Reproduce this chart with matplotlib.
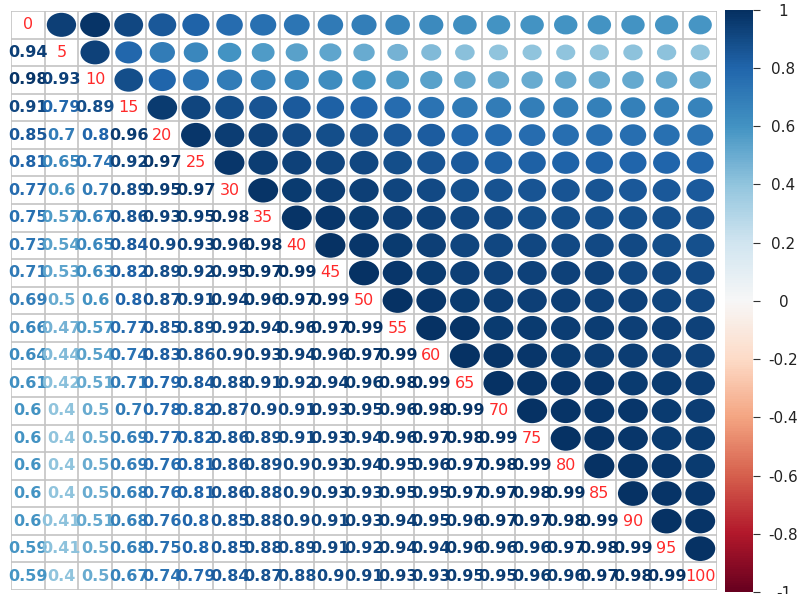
import numpy as np
import matplotlib
matplotlib.use("Agg")
import matplotlib.pyplot as plt
from matplotlib.patches import Ellipse
from matplotlib import colors

# variable names along the diagonal
var_labels = ["0", "5", "10", "15", "20", "25", "30", "35", "40", "45", "50",
              "55", "60", "65", "70", "75", "80", "85", "90", "95", "100"]

# lower triangle of the correlation matrix, one list per row (row i has i entries)
lower_rows = [
    [],
    [0.94],
    [0.98, 0.93],
    [0.91, 0.79, 0.89],
    [0.85, 0.70, 0.80, 0.96],
    [0.81, 0.65, 0.74, 0.92, 0.97],
    [0.77, 0.60, 0.70, 0.89, 0.95, 0.97],
    [0.75, 0.57, 0.67, 0.86, 0.93, 0.95, 0.98],
    [0.73, 0.54, 0.65, 0.84, 0.90, 0.93, 0.96, 0.98],
    [0.71, 0.53, 0.63, 0.82, 0.89, 0.92, 0.95, 0.97, 0.99],
    [0.69, 0.50, 0.60, 0.80, 0.87, 0.91, 0.94, 0.96, 0.97, 0.99],
    [0.66, 0.47, 0.57, 0.77, 0.85, 0.89, 0.92, 0.94, 0.96, 0.97, 0.99],
    [0.64, 0.44, 0.54, 0.74, 0.83, 0.86, 0.90, 0.93, 0.94, 0.96, 0.97, 0.99],
    [0.61, 0.42, 0.51, 0.71, 0.79, 0.84, 0.88, 0.91, 0.92, 0.94, 0.96, 0.98, 0.99],
    [0.60, 0.40, 0.50, 0.70, 0.78, 0.82, 0.87, 0.90, 0.91, 0.93, 0.95, 0.96, 0.98,
     0.99],
    [0.60, 0.40, 0.50, 0.69, 0.77, 0.82, 0.86, 0.89, 0.91, 0.93, 0.94, 0.96, 0.97,
     0.98, 0.99],
    [0.60, 0.40, 0.50, 0.69, 0.76, 0.81, 0.86, 0.89, 0.90, 0.93, 0.94, 0.95, 0.96,
     0.97, 0.98, 0.99],
    [0.60, 0.40, 0.50, 0.68, 0.76, 0.81, 0.86, 0.88, 0.90, 0.93, 0.93, 0.95, 0.95,
     0.97, 0.97, 0.98, 0.99],
    [0.60, 0.41, 0.51, 0.68, 0.76, 0.80, 0.85, 0.88, 0.90, 0.91, 0.93, 0.94, 0.95,
     0.96, 0.97, 0.97, 0.98, 0.99],
    [0.59, 0.41, 0.50, 0.68, 0.75, 0.80, 0.85, 0.88, 0.89, 0.91, 0.92, 0.94, 0.94,
     0.96, 0.96, 0.96, 0.97, 0.98, 0.99],
    [0.59, 0.40, 0.50, 0.67, 0.74, 0.79, 0.84, 0.87, 0.88, 0.90, 0.91, 0.93, 0.93,
     0.95, 0.95, 0.96, 0.96, 0.97, 0.98, 0.99],
]

legend_ticks = [-1.0, -0.8, -0.6, -0.4, -0.2, 0.0, 0.2, 0.4, 0.6, 0.8, 1.0]
legend_tick_labels = ["-1", "-0.8", "-0.6", "-0.4", "-0.2", "0", "0.2", "0.4",
                      "0.6", "0.8", "1"]

n = len(var_labels)
corr = np.eye(n)
for i, row in enumerate(lower_rows):
    for j, v in enumerate(row):
        corr[i, j] = v
        corr[j, i] = v

cmap = plt.get_cmap("RdBu")
norm = colors.Normalize(vmin=-1, vmax=1)


def fmt(v):
    return f"{v:.2f}".rstrip("0")


fig = plt.figure(figsize=(7.99, 5.94), dpi=100)
ax = fig.add_axes([0.0138, 0.0067, 0.8836, 0.9747])
ax.set_xlim(-0.5, n - 0.5)
ax.set_ylim(n - 0.5, -0.5)
ax.set_axis_off()

# cell grid
for k in range(n + 1):
    ax.axhline(k - 0.5, color="#c4c4c4", lw=1.2, zorder=1)
    ax.axvline(k - 0.5, color="#c4c4c4", lw=1.2, zorder=1)

for i in range(n):
    for j in range(n):
        r = corr[i, j]
        if j > i:
            # upper triangle: circles, area proportional to |r|
            d = 0.9 * np.sqrt(abs(r))
            ax.add_patch(Ellipse((j, i), d, d, facecolor=cmap(norm(r)),
                                 edgecolor="none", zorder=2))
        elif j < i:
            ax.text(j, i, fmt(r), ha="center", va="center", fontsize=11.5,
                    fontweight="bold", color=cmap(norm(r)), zorder=3)
        else:
            ax.text(j, i, var_labels[i], ha="center", va="center", fontsize=11.5,
                    color="#ff2a2a", zorder=3)

# colour legend
cax = fig.add_axes([0.9074, 0.0034, 0.035, 0.98])
sm = plt.cm.ScalarMappable(norm=norm, cmap=cmap)
cb = fig.colorbar(sm, cax=cax, ticks=legend_ticks)
cb.outline.set_visible(False)
cb.ax.set_yticklabels(legend_tick_labels)
cb.ax.tick_params(length=5, width=0.8, color="#333333", labelsize=11,
                  labelcolor="#222222", pad=17)
for lbl in cb.ax.get_yticklabels():
    lbl.set_horizontalalignment("center")

fig.savefig("out.png", dpi=100)
